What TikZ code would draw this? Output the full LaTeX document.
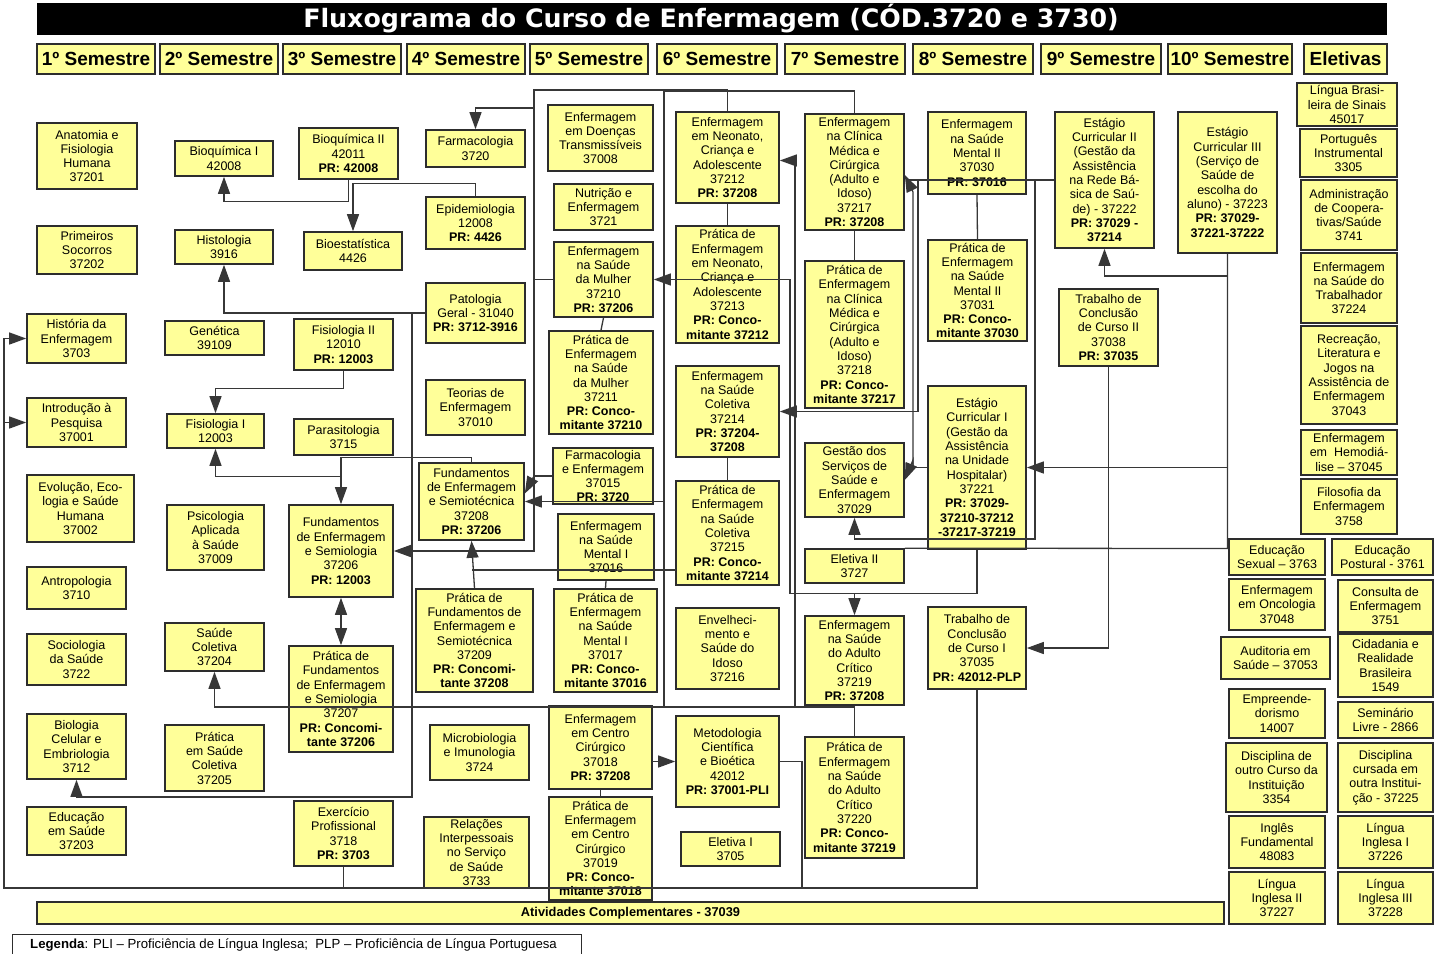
\documentclass[tikz,border=0pt]{standalone}
\usepackage{fontspec}
\setmainfont{Liberation Sans}
\newfontfamily\titlefont{DejaVu Sans}
\usetikzlibrary{arrows.meta}
\definecolor{boxfill}{RGB}{255,255,153}
\definecolor{boxline}{RGB}{45,45,45}
\definecolor{linkcol}{RGB}{55,55,55}

\begin{document}
\begin{tikzpicture}[x=1pt, y=-1pt,
  box/.style n args={4}{draw=boxline, fill=boxfill, line width=1.6pt, align=center,
    inner sep=0pt, font=\fontsize{12.5}{14.3}\selectfont,
    minimum width={#3-#1}, minimum height={#4-#2}, at={({(#1+#3)/2},{(#2+#4)/2})}},
  sem/.style n args={2}{draw=boxline, fill=boxfill, line width=1.6pt, inner sep=0pt,
    font=\fontsize{19}{21}\selectfont\bfseries,
    minimum width={#2-#1}, minimum height=30, at={({(#1+#2)/2},59)}},
  link/.style={draw=linkcol, line width=1.3pt},
  pr/.style={link, -{Triangle[length=17pt,width=12pt]}},
  both/.style={link, {Triangle[length=17pt,width=12pt]}-{Triangle[length=17pt,width=12pt]}},
  ]
  \useasboundingbox (0,0) rectangle (1437,953);

  % Title and semesters
  \node[fill=black, minimum width=1350, minimum height=32, inner sep=0pt] (title) at (712,19) {};
  \node[text=white, font=\titlefont\bfseries\fontsize{25.3}{27}\selectfont] (titletext) at (711,19)
    {Fluxograma do Curso de Enfermagem (CÓD.3720 e 3730)};
  \node[sem={37}{155}] (s1) {1º Semestre};
  \node[sem={160}{278}] (s2) {2º Semestre};
  \node[sem={283}{401}] (s3) {3º Semestre};
  \node[sem={407}{525}] (s4) {4º Semestre};
  \node[sem={530}{648}] (s5) {5º Semestre};
  \node[sem={657}{777}] (s6) {6º Semestre};
  \node[sem={785}{905}] (s7) {7º Semestre};
  \node[sem={913}{1033}] (s8) {8º Semestre};
  \node[sem={1041}{1161}] (s9) {9º Semestre};
  \node[sem={1168}{1292}] (s10) {10º Semestre};
  \node[sem={1304}{1387}] (elet) {Eletivas};

  % 1st semester
  \node[box={37}{123}{137}{189}] (anat) {Anatomia e\\Fisiologia\\Humana\\37201};
  \node[box={37}{226}{137}{274}] (socorros) {Primeiros\\Socorros\\37202};
  \node[box={27}{314}{126}{363}] (hist) {História da\\Enfermagem\\3703};
  \node[box={27}{398}{126}{447}] (intro) {Introdução à\\Pesquisa\\37001};
  \node[box={27}{475}{134}{542}] (evol) {Evolução, Eco-\\logia e Saúde\\Humana\\37002};
  \node[box={27}{567}{126}{609}] (antrop) {Antropologia\\3710};
  \node[box={27}{634}{126}{685}] (socio) {Sociologia\\da Saúde\\3722};
  \node[box={27}{714}{126}{779}] (biocel) {Biologia\\Celular e\\Embriologia\\3712};
  \node[box={27}{807}{126}{855}] (edusaude) {Educação\\em Saúde\\37203};

  % 2nd semester
  \node[box={175}{141}{273}{176}] (bioqI) {Bioquímica I\\42008};
  \node[box={175}{230}{273}{264}] (histol) {Histologia\\3916};
  \node[box={165}{321}{264}{355}] (genet) {Genética\\39109};
  \node[box={167}{414}{264}{448}] (fisioI) {Fisiologia I\\12003};
  \node[box={167}{505}{264}{570}] (psico) {Psicologia\\Aplicada\\à Saúde\\37009};
  \node[box={165}{623}{264}{671}] (saudecol) {Saúde\\Coletiva\\37204};
  \node[box={165}{725}{264}{791}] (pratsc) {Prática\\em Saúde\\Coletiva\\37205};

  % 3rd semester
  \node[box={299}{128}{398}{179}] (bioqII) {Bioquímica II\\42011\\\textbf{PR: 42008}};
  \node[box={304}{232}{402}{270}] (bioest) {Bioestatística\\4426};
  \node[box={294}{319}{393}{370}] (fisioII) {Fisiologia II\\12010\\\textbf{PR: 12003}};
  \node[box={294}{419}{393}{455}] (parasit) {Parasitologia\\3715};
  \node[box={289}{505}{393}{597}] (fundsem) {Fundamentos\\de Enfermagem\\e Semiologia\\37206\\\textbf{PR: 12003}};
  \node[box={289}{646}{393}{752}] (pratfund) {Prática de\\Fundamentos\\de Enfermagem\\e Semiologia\\37207\\\textbf{PR: Concomi-}\\\textbf{tante 37206}};
  \node[box={294}{801}{393}{866}] (exerc) {Exercício\\Profissional\\3718\\\textbf{PR: 3703}};

  % 4th semester
  \node[box={426}{130}{525}{167}] (farmaco) {Farmacologia\\3720};
  \node[box={426}{197}{525}{249}] (epidem) {Epidemiologia\\12008\\\textbf{PR: 4426}};
  \node[box={426}{283}{525}{343}] (patol) {Patologia\\Geral - 31040\\\textbf{PR: 3712-3916}};
  \node[box={426}{380}{525}{435}] (teorias) {Teorias de\\Enfermagem\\37010};
  \node[box={419}{463}{524}{540}] (fundtec) {Fundamentos\\de Enfermagem\\e Semiotécnica\\37208\\\textbf{PR: 37206}};
  \node[box={416}{589}{533}{692}] (pratfundtec) {Prática de\\Fundamentos de\\Enfermagem e\\Semiotécnica\\37209\\\textbf{PR: Concomi-}\\\textbf{tante 37208}};
  \node[box={430}{725}{529}{780}] (microb) {Microbiologia\\e Imunologia\\3724};
  \node[box={424}{817}{529}{888}] (relac) {Relações\\Interpessoais\\no Serviço\\de Saúde\\3733};

  % 5th semester
  \node[box={548}{105}{653}{171}] (doencas) {Enfermagem\\em Doenças\\Transmissíveis\\37008};
  \node[box={554}{184}{653}{230}] (nutri) {Nutrição e\\Enfermagem\\3721};
  \node[box={554}{242}{653}{317}] (mulher) {Enfermagem\\na Saúde\\da Mulher\\37210\\\textbf{PR: 37206}};
  \node[box={549}{331}{653}{434}] (pratmulher) {Prática de\\Enfermagem\\na Saúde\\da Mulher\\37211\\\textbf{PR: Conco-}\\\textbf{mitante 37210}};
  \node[box={553}{448}{653}{504}] (farmenf) {Farmacologia\\e Enfermagem\\37015\\\textbf{PR: 3720}};
  \node[box={558}{514}{654}{580}] (mentalI) {Enfermagem\\na Saúde\\Mental I\\37016};
  \node[box={554}{589}{657}{692}] (pratmentalI) {Prática de\\Enfermagem\\na Saúde\\Mental I\\37017\\\textbf{PR: Conco-}\\\textbf{mitante 37016}};
  \node[box={549}{706}{652}{789}] (centro) {Enfermagem\\em Centro\\Cirúrgico\\37018\\\textbf{PR: 37208}};
  \node[box={549}{797}{652}{900}] (pratcentro) {Prática de\\Enfermagem\\em Centro\\Cirúrgico\\37019\\\textbf{PR: Conco-}\\\textbf{mitante 37018}};

  % 6th semester
  \node[box={676}{112}{779}{203}] (neonato) {Enfermagem\\em Neonato,\\Criança e\\Adolescente\\37212\\\textbf{PR: 37208}};
  \node[box={676}{226}{779}{343}] (pratneo) {Prática de\\Enfermagem\\em Neonato,\\Criança e\\Adolescente\\37213\\\textbf{PR: Conco-}\\\textbf{mitante 37212}};
  \node[box={676}{366}{779}{457}] (saudecolet) {Enfermagem\\na Saúde\\Coletiva\\37214\\\textbf{PR: 37204-}\\\textbf{37208}};
  \node[box={676}{481}{779}{585}] (pratsaudecolet) {Prática de\\Enfermagem\\na Saúde\\Coletiva\\37215\\\textbf{PR: Conco-}\\\textbf{mitante 37214}};
  \node[box={676}{608}{779}{689}] (idoso) {Envelheci-\\mento e\\Saúde do\\Idoso\\37216};
  \node[box={676}{716}{779}{807}] (metod) {Metodologia\\Científica\\e Bioética\\42012\\\textbf{PR: 37001-PLI}};
  \node[box={681}{832}{780}{866}] (eletI) {Eletiva I\\3705};

  % 7th semester
  \node[box={805}{114}{904}{230}] (clinica) {Enfermagem\\na Clínica\\Médica e\\Cirúrgica\\(Adulto e\\Idoso)\\37217\\\textbf{PR: 37208}};
  \node[box={805}{261}{904}{408}] (pratclin) {Prática de\\Enfermagem\\na Clínica\\Médica e\\Cirúrgica\\(Adulto e\\Idoso)\\37218\\\textbf{PR: Conco-}\\\textbf{mitante 37217}};
  \node[box={805}{443}{904}{517}] (gestao) {Gestão dos\\Serviços de\\Saúde e\\Enfermagem\\37029};
  \node[box={805}{549}{904}{583}] (eletII) {Eletiva II\\3727};
  \node[box={805}{616}{904}{705}] (critico) {Enfermagem\\na Saúde\\do Adulto\\Crítico\\37219\\\textbf{PR: 37208}};
  \node[box={805}{737}{904}{858}] (pratcrit) {Prática de\\Enfermagem\\na Saúde\\do Adulto\\Crítico\\37220\\\textbf{PR: Conco-}\\\textbf{mitante 37219}};

  % 8th semester
  \node[box={928}{112}{1026}{194}] (mentalII) {Enfermagem\\na Saúde\\Mental II\\37030\\\textbf{PR: 37016}};
  \node[box={928}{240}{1027}{341}] (pratmentalII) {Prática de\\Enfermagem\\na Saúde\\Mental II\\37031\\\textbf{PR: Conco-}\\\textbf{mitante 37030}};
  \node[box={928}{386}{1026}{549}] (estagioI) {Estágio\\Curricular I\\(Gestão da\\Assistência\\na Unidade\\Hospitalar)\\37221\\\textbf{PR: 37029-}\\\textbf{37210-37212}\\\textbf{-37217-37219}};
  \node[box={928}{607}{1026}{689}] (tccI) {Trabalho de\\Conclusão\\de Curso I\\37035\\\textbf{PR: 42012-PLP}};

  % 9th and 10th semesters
  \node[box={1055}{112}{1154}{248}] (estagioII) {Estágio\\Curricular II\\(Gestão da\\Assistência\\na Rede Bá-\\sica de Saú-\\de) - 37222\\\textbf{PR: 37029 -}\\\textbf{37214}};
  \node[box={1059}{289}{1158}{366}] (tccII) {Trabalho de\\Conclusão\\de Curso II\\37038\\\textbf{PR: 37035}};
  \node[box={1178}{112}{1277}{253}] (estagioIII) {Estágio\\Curricular III\\(Serviço de\\Saúde de\\escolha do\\aluno) - 37223\\\textbf{PR: 37029-}\\\textbf{37221-37222}};

  % Electives
  \node[box={1297}{83}{1397}{126}] (libras) {Língua Brasi-\\leira de Sinais\\45017};
  \node[box={1300}{129}{1397}{177}] (portug) {Português\\Instrumental\\3305};
  \node[box={1301}{180}{1397}{250}] (admin) {Administração\\de Coopera-\\tivas/Saúde\\3741};
  \node[box={1301}{253}{1397}{323}] (trabalhador) {Enfermagem\\na Saúde do\\Trabalhador\\37224};
  \node[box={1301}{326}{1397}{424}] (recreacao) {Recreação,\\Literatura e\\Jogos na\\Assistência de\\Enfermagem\\37043};
  \node[box={1301}{430}{1397}{475}] (hemodial) {Enfermagem\\em\ \ Hemodiá-\\lise – 37045};
  \node[box={1301}{479}{1397}{534}] (filosofia) {Filosofia da\\Enfermagem\\3758};
  \node[box={1229}{539}{1325}{575}] (edusex) {Educação\\Sexual – 3763};
  \node[box={1332}{539}{1433}{575}] (edupost) {Educação\\Postural - 3761};
  \node[box={1229}{579}{1325}{630}] (oncol) {Enfermagem\\em Oncologia\\37048};
  \node[box={1338}{580}{1433}{632}] (consulta) {Consulta de\\Enfermagem\\3751};
  \node[box={1221}{637}{1330}{679}] (auditoria) {Auditoria em\\Saúde – 37053};
  \node[box={1338}{634}{1433}{697}] (cidadania) {Cidadania e\\Realidade\\Brasileira\\1549};
  \node[box={1229}{689}{1325}{738}] (empreend) {Empreende-\\dorismo\\14007};
  \node[box={1338}{702}{1433}{738}] (seminario) {Seminário\\Livre - 2866};
  \node[box={1226}{743}{1327}{812}] (outrocurso) {Disciplina de\\outro Curso da\\Instituição\\3354};
  \node[box={1338}{743}{1433}{812}] (outrainst) {Disciplina\\cursada em\\outra Institui-\\ção - 37225};
  \node[box={1229}{816}{1325}{868}] (inglesfund) {Inglês\\Fundamental\\48083};
  \node[box={1338}{816}{1433}{868}] (inglesI) {Língua\\Inglesa I\\37226};
  \node[box={1229}{872}{1325}{924}] (inglesII) {Língua\\Inglesa II\\37227};
  \node[box={1338}{872}{1433}{924}] (inglesIII) {Língua\\Inglesa III\\37228};

  % Bottom bar and legend
  \node[box={37}{902}{1224}{924}, font=\fontsize{12.8}{14.3}\selectfont\bfseries] (ativ) {Atividades Complementares - 37039};
  \draw[boxline, line width=1pt] (12,970) |- (581,934) -- (581,970);
  \node[anchor=west, font=\fontsize{13.2}{15}\selectfont, inner sep=0pt] (legenda) at (30,945)
    {\textbf{Legenda}: PLI – Proficiência de Língua Inglesa;\ \ PLP – Proficiência de Língua Portuguesa};

  % Arrows
  \draw[pr] (bioqII.south) -- ++(0,22) -| (bioqI.south);
  \draw[pr] (epidem.north) -- ++(0,-13) -| (bioest.north);
  \draw[pr] (patol.west) -| (histol.south);
  \draw[pr] (patol.west) -| (412,797) -| (biocel.south);
  \draw[pr] (fisioII.south) -- ++(0,18) -| (fisioI.north);
  \draw[pr] (fundtec.north) -- ++(0,-5) -| (fundsem.north);
  \draw[pr] ([yshift=28pt]fundsem.north) -| (fisioI.south);
  \draw[both] (fundsem.south) -- (pratfund.north);
  \draw[pr] (pratfundtec.north) -- (fundtec.south);
  \draw[link] (676,570) -- (471.5,570);

  \draw[pr] (neonato.north) |- (534,90) |- (fundsem.east);
  \draw[pr] (534,108) -| (farmaco.north);
  \draw[link] (mulher.west) -- (534,279.5);
  \draw[link] (farmenf.west) -- (534,476);
  \draw[pr] (534,476) -- ([yshift=8pt]fundtec.east);
  \draw[link] (clinica.north) |- (664,91) -- (664,707);
  \draw[pr] (664,501.5) -- (fundtec.east);

  \draw[link] (neonato.south) -- (pratneo.north);
  \draw[link] (clinica.south) -- (pratclin.north);
  \draw[link] (saudecolet.south) -- (pratsaudecolet.north);
  \draw[link] (mulher.south) -- (pratmulher.north);
  \draw[link] (mentalI.south) -- (pratmentalI.north);
  \draw[link] (centro.south) -- (pratcentro.north);
  \draw[link] (mentalII.south) -- (pratmentalII.north);
  \draw[link] (critico.south) -- (pratcrit.north);

  \draw[pr] (854.5,707) -| (saudecol.south);
  \draw[pr] (795,707) |- ([yshift=-3pt]neonato.east);
  \draw[pr] (estagioI.south) -- ++(0,44) -| (790,279.5) -- (mulher.east);
  \draw[pr] (854.5,593) -- (critico.north);

  \draw[pr] (estagioII.west) -| (918,411.5) -- (saudecolet.east);
  \draw[link] (918,180) -- (908,180);
  \draw[link] (estagioI.west) -- (913,467.5);
  \draw[pr] (913,467.5) -- (913,192) -- ([yshift=-3pt]clinica.east);
  \draw[pr] (913,467.5) -- (913,460) -- (gestao.east);
  \draw[pr] (1035,180) |- (854.5,539) -- (gestao.south);

  \draw[link] (estagioIII.south) -- (1227.5,548.5) -- (eletII.north east);
  \draw[pr] (1227.5,276) -| (estagioII.south);
  \draw[pr] (1227.5,467.5) -- (estagioI.east);

  \draw[pr] (tccII.south) |- (tccI.east);
  \draw[pr] (tccI.south) |- (4,888) |- (hist.west);
  \draw[pr] (4,422.5) -- (intro.west);
  \draw[link] (exerc.south) -- (343.5,888);
  \draw[link] (metod.east) -| (802,888);
  \draw[pr] (652,761.5) -- (metod.west);
\end{tikzpicture}
\end{document}
